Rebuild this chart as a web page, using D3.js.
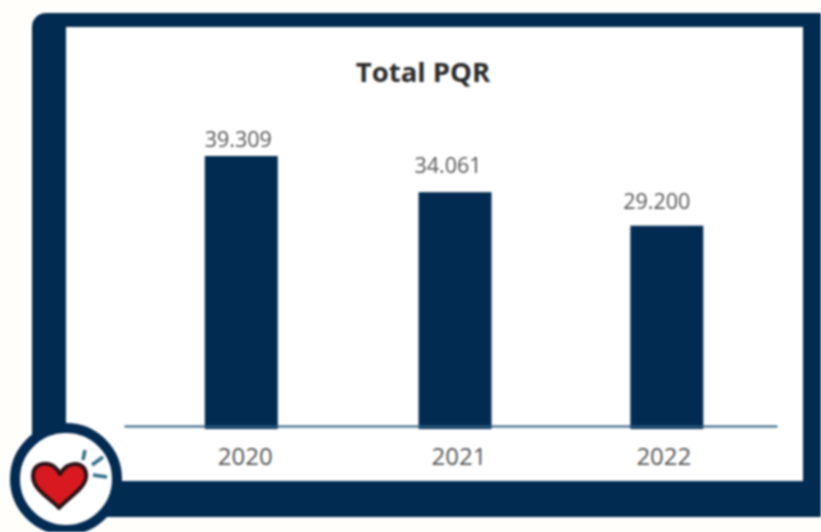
<!DOCTYPE html>
<html><head><meta charset="utf-8">
<script src="https://cdn.jsdelivr.net/npm/d3@7"></script>
<style>html,body{margin:0;padding:0;background:#fffefb;overflow:hidden}svg{display:block;filter:blur(0.8px)}text{font-family:"Open Sans",sans-serif}</style>
</head><body><svg id="c" width="821" height="532"></svg>
<script>
const categories = ["2020","2021","2022"];
const values = [39309,34061,29200];
const valueLabels = ["39.309","34.061","29.200"];
const title = "Total PQR";
const navy = "#022b52";
const svg = d3.select("#c");
// frame
svg.append("rect").attr("x",32).attr("y",13).attr("width",830).attr("height",504).attr("rx",14).attr("fill",navy);
svg.append("rect").attr("x",66).attr("y",27).attr("width",737).attr("height",454).attr("fill","#fff");
svg.append("text").attr("x",423).attr("y",82).attr("text-anchor","middle").attr("font-size",27.5).attr("font-weight",700).attr("fill","#2b2b2b").text(title);
const x = d3.scaleBand().domain(categories).range([124,777]).paddingInner(0.657).paddingOuter(0.363).align(0.523);
const y = d3.scaleLinear().domain([0,39309]).range([427,156]);
const bw = x.bandwidth();
svg.append("g").selectAll("rect").data(values).join("rect")
  .attr("x",(d,i)=>x(categories[i])+(i===1?1:0)).attr("y",d=>y(d)).attr("width",bw).attr("height",d=>y(0)-y(d)+2).attr("fill",navy);
const ax = svg.append("g").attr("transform","translate(0,426)").call(d3.axisBottom(x).tickSize(0).tickPadding(22));
ax.select(".domain").attr("stroke","#2f5f80").attr("stroke-width",1.8);
const tickNudge = [4,5,-3];
ax.selectAll("text").attr("font-size",24).attr("font-family",'"Open Sans",sans-serif').attr("fill","#555").attr("dx",(d,i)=>tickNudge[i]);
const labelNudgeX = [-3,-7,-10], labelNudgeY = [-9,-19,-17];
svg.append("g").selectAll("text").data(values).join("text")
  .attr("x",(d,i)=>x(categories[i])+bw/2+labelNudgeX[i]+(i===1?1:0)).attr("y",(d,i)=>y(d)+labelNudgeY[i]).attr("text-anchor","middle").attr("font-size",21.5).attr("fill","#555").text((d,i)=>valueLabels[i]);
// heart badge
svg.append("circle").attr("cx",66).attr("cy",479).attr("r",51).attr("fill","#fff").attr("stroke",navy).attr("stroke-width",10);
svg.append("path").attr("d","M59 508 C50 498 33 490 33 476 C33 465 42 463 48 464 C54 465 58 470 60 474 C63 469 68 464 75 464 C83 464 87 470 86 478 C84 489 68 498 59 508 Z").attr("fill","#d8191f").attr("stroke","#2a1216").attr("stroke-width",4).attr("stroke-linejoin","round");
[[85,450,83,460],[103,457,92,465],[93,475,107,477]].forEach(s=>svg.append("line").attr("x1",s[0]).attr("y1",s[1]).attr("x2",s[2]).attr("y2",s[3]).attr("stroke","#2f7088").attr("stroke-width",3.5));
</script></body></html>
